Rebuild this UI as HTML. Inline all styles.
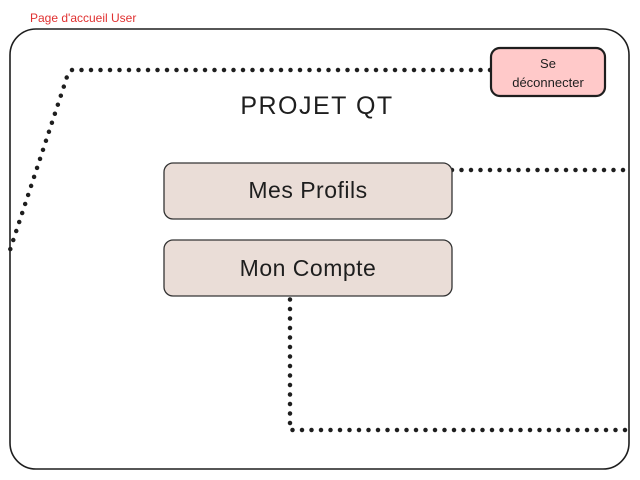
<!DOCTYPE html>
<html><head><style>
body{margin:0;background:#fff;width:640px;height:480px;overflow:hidden}
svg{display:block}
text{font-family:"Comic Sans MS","Liberation Sans",sans-serif;fill:#1e1e1e}
</style></head><body>
<svg width="640" height="480" viewBox="0 0 640 480">
<text x="30" y="22" font-size="12" style="fill:#e03131">Page d'accueil User</text>
<rect x="10" y="29" width="619" height="440" rx="26" fill="none" stroke="#1e1e1e" stroke-width="1.6"/>
<g fill="none" stroke="#1e1e1e" stroke-width="4.5" stroke-linecap="round" stroke-dasharray="0 9.5">
<path d="M490 70 L72 70 Q68 72 66 80 L10 250"/>
<path d="M452 170 L630 170"/>
<path d="M290 290 L290 430 L630 430"/>
</g>
<rect x="491" y="48" width="114" height="48" rx="9" fill="#ffc9c9" stroke="#1e1e1e" stroke-width="2.2"/>
<text x="548" y="68" font-size="13" text-anchor="middle">Se</text>
<text x="548" y="87" font-size="13" text-anchor="middle">déconnecter</text>
<text x="317" y="114" font-size="25" text-anchor="middle" letter-spacing="1.5">PROJET QT</text>
<rect x="164" y="163" width="288" height="56" rx="9" fill="#eaddd7" stroke="#343434" stroke-width="1.3"/>
<text x="308" y="198" font-size="23" text-anchor="middle" letter-spacing="0.5">Mes Profils</text>
<rect x="164" y="240" width="288" height="56" rx="9" fill="#eaddd7" stroke="#343434" stroke-width="1.3"/>
<text x="308" y="276" font-size="23" text-anchor="middle" letter-spacing="0.5">Mon Compte</text>
</svg>
</body></html>
